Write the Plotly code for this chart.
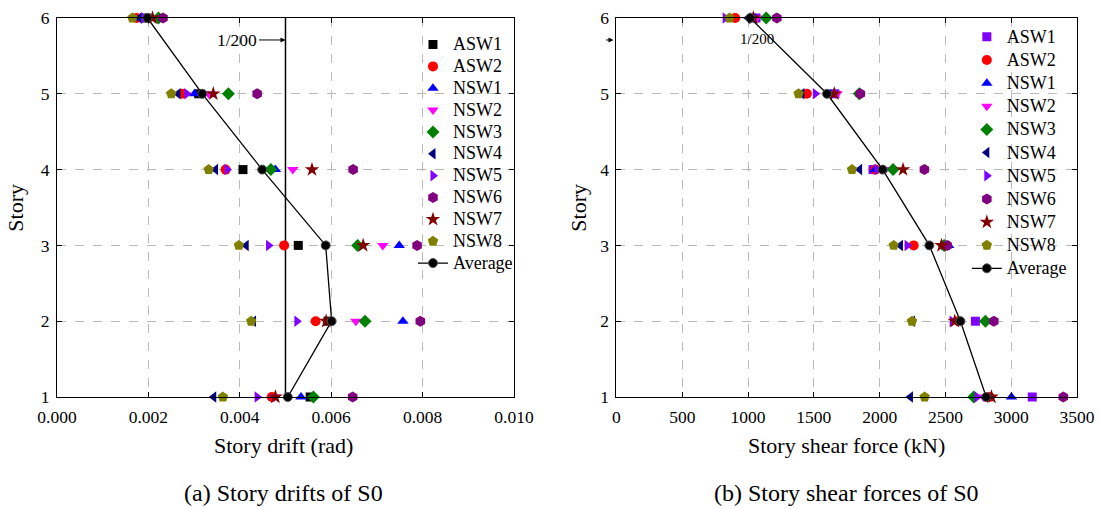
import plotly.graph_objects as go
from plotly.subplots import make_subplots

stories = [1, 2, 3, 4, 5, 6]
names = ["ASW1", "ASW2", "NSW1", "NSW2", "NSW3", "NSW4", "NSW5", "NSW6", "NSW7", "NSW8"]

# (a) story drift (rad), story 1..6
drift_ASW1 = [0.00554, 0.00593, 0.00528, 0.00407, 0.00310, 0.00195]
drift_ASW2 = [0.00470, 0.00566, 0.00497, 0.00369, 0.00274, 0.00174]
drift_NSW1 = [0.00534, 0.00757, 0.00749, 0.00478, 0.00301, 0.00183]
drift_NSW2 = [0.00475, 0.00654, 0.00713, 0.00516, 0.00332, 0.00200]
drift_NSW3 = [0.00561, 0.00674, 0.00658, 0.00468, 0.00375, 0.00222]
drift_NSW4 = [0.00343, 0.00430, 0.00414, 0.00347, 0.00265, 0.00180]
drift_NSW5 = [0.00438, 0.00525, 0.00463, 0.00372, 0.00284, 0.00190]
drift_NSW6 = [0.00647, 0.00795, 0.00788, 0.00648, 0.00438, 0.00232]
drift_NSW7 = [0.00478, 0.00589, 0.00670, 0.00558, 0.00342, 0.00209]
drift_NSW8 = [0.00363, 0.00425, 0.00398, 0.00332, 0.00250, 0.00165]
drift_avg = [0.00505, 0.00601, 0.00588, 0.00449, 0.00318, 0.00198]

# (b) story shear force (kN), story 1..6
shear_ASW1 = [3160, 2728, 2500, 1950, 1660, 1060]
shear_ASW2 = [2835, 2600, 2259, 1967, 1447, 902]
shear_NSW1 = [3002, 2605, 2525, 1967, 1625, 1054]
shear_NSW2 = [2790, 2589, 2490, 2043, 1676, 1067]
shear_NSW3 = [2715, 2804, 2490, 2102, 1845, 1138]
shear_NSW4 = [2234, 2250, 2158, 1848, 1409, 1000]
shear_NSW5 = [2741, 2551, 2209, 1980, 1511, 826]
shear_NSW6 = [3396, 2868, 2513, 2340, 1853, 1219]
shear_NSW7 = [2850, 2571, 2470, 2178, 1655, 1040]
shear_NSW8 = [2342, 2246, 2107, 1790, 1384, 859]
shear_avg = [2810, 2614, 2378, 2023, 1600, 1016]

drift_limit = 0.005
drift_ticks = [0.000, 0.002, 0.004, 0.006, 0.008, 0.010]
shear_ticks = [0, 500, 1000, 1500, 2000, 2500, 3000, 3500]

drift_series = [drift_ASW1, drift_ASW2, drift_NSW1, drift_NSW2, drift_NSW3,
                drift_NSW4, drift_NSW5, drift_NSW6, drift_NSW7, drift_NSW8]
shear_series = [shear_ASW1, shear_ASW2, shear_NSW1, shear_NSW2, shear_NSW3,
                shear_NSW4, shear_NSW5, shear_NSW6, shear_NSW7, shear_NSW8]

symbols = ["square", "circle", "triangle-up", "triangle-down", "diamond",
           "triangle-left", "triangle-right", "hexagon", "star", "pentagon"]
colors_a = ["#000000", "#FF0000", "#0000FF", "#FF00FF", "#008000",
            "#000080", "#8000FF", "#800080", "#800000", "#808000"]
colors_b = ["#8000FF"] + colors_a[1:]
sizes = [9, 10, 10, 10, 10, 10, 10, 11, 11, 11]

FONT = "Times New Roman, Liberation Serif, serif"


def lname(n):
    return '<span style="font-size:18px">' + n + '</span>'


fig = make_subplots(rows=1, cols=2, horizontal_spacing=0.1)

# vertical 1/200 line
fig.add_trace(go.Scatter(x=[drift_limit, drift_limit], y=[1, 6], mode="lines",
                         line=dict(color="black", width=1.5), showlegend=False,
                         hoverinfo="skip"), row=1, col=1)

for i, n in enumerate(names):
    fig.add_trace(go.Scatter(x=drift_series[i], y=stories, mode="markers", name=lname(n),
                             marker=dict(symbol=symbols[i], color=colors_a[i], size=sizes[i],
                                         line=dict(width=0)),
                             cliponaxis=False, legend="legend"), row=1, col=1)
fig.add_trace(go.Scatter(x=drift_avg, y=stories, mode="lines+markers", name=lname("Average"),
                         line=dict(color="black", width=1.3),
                         marker=dict(symbol="circle", color="black", size=9,
                                     line=dict(color="#555555", width=1)),
                         cliponaxis=False, legend="legend"), row=1, col=1)

for i, n in enumerate(names):
    fig.add_trace(go.Scatter(x=shear_series[i], y=stories, mode="markers", name=lname(n),
                             marker=dict(symbol=symbols[i], color=colors_b[i], size=sizes[i],
                                         line=dict(width=0)),
                             cliponaxis=False, legend="legend2"), row=1, col=2)
fig.add_trace(go.Scatter(x=shear_avg, y=stories, mode="lines+markers", name=lname("Average"),
                         line=dict(color="black", width=1.3),
                         marker=dict(symbol="circle", color="black", size=9,
                                     line=dict(color="#555555", width=1)),
                         cliponaxis=False, legend="legend2"), row=1, col=2)

axis_common = dict(showline=True, linecolor="black", linewidth=1, mirror="allticks",
                   ticks="inside", ticklen=5, tickcolor="black", automargin=False,
                   showgrid=True, gridcolor="#BBBBBB", griddash="dash", gridwidth=1,
                   zeroline=False, tickfont=dict(family=FONT, size=17.5, color="black"))

fig.update_xaxes(axis_common)
fig.update_yaxes(axis_common)

fig.update_xaxes(range=[0, 0.010], tickvals=drift_ticks, tickformat=".3f",
                 ticklabelstandoff=4, domain=[0, 0.448], row=1, col=1)
fig.update_xaxes(range=[0, 3500], tickvals=shear_ticks,
                 ticklabelstandoff=4, domain=[0.5485, 1.0], row=1, col=2)
fig.update_yaxes(range=[1, 6], tickvals=stories, ticklabelstandoff=3, row=1, col=1)
fig.update_yaxes(range=[1, 6], tickvals=stories, ticklabelstandoff=3, row=1, col=2)

legend_common = dict(bgcolor="rgba(0,0,0,0)", xanchor="left", yanchor="top",
                     tracegroupgap=0, itemwidth=30)

fig.update_layout(
    width=1099, height=509,
    margin=dict(l=57, r=22, t=18, b=112),
    paper_bgcolor="white", plot_bgcolor="white",
    font=dict(family=FONT, color="black"),
    legend=dict(legend_common, x=0.349, y=0.972,
                font=dict(family=FONT, size=14.5, color="black")),
    legend2=dict(legend_common, x=0.892, y=0.994,
                 font=dict(family=FONT, size=15.5, color="black")),
    annotations=[
        dict(x=drift_limit, y=5.71, xref="x", yref="y", text="1/200", showarrow=True,
             ax=-48, ay=0, arrowhead=2, arrowsize=1, arrowwidth=1, arrowcolor="black",
             font=dict(family=FONT, size=17.5, color="black")),
        dict(x=1069, y=5.72, xref="x2", yref="y2", text="1/200", showarrow=False,
             font=dict(family=FONT, size=15, color="black")),
        dict(x=0, y=5.71, xref="x2", yref="y2", text="", showarrow=True,
             ax=-12, ay=0, arrowhead=2, arrowsize=1, arrowwidth=1, arrowcolor="black",
             standoff=3),
        dict(x=0.2216, y=-0.129, xref="paper", yref="paper", text="Story drift (rad)",
             xanchor="center", yanchor="middle",
             showarrow=False, font=dict(family=FONT, size=22, color="black")),
        dict(x=0.7745, y=-0.129, xref="paper", yref="paper", text="Story shear force (kN)",
             xanchor="center", yanchor="middle",
             showarrow=False, font=dict(family=FONT, size=22, color="black")),
        dict(x=-0.041, y=0.5, xref="paper", yref="paper", text="Story", textangle=-90,
             xanchor="center", yanchor="middle",
             showarrow=False, font=dict(family=FONT, size=22, color="black")),
        dict(x=0.511, y=0.5, xref="paper", yref="paper", text="Story", textangle=-90,
             xanchor="center", yanchor="middle",
             showarrow=False, font=dict(family=FONT, size=22, color="black")),
        dict(x=0.2216, y=-0.253, xref="paper", yref="paper", text="(a) Story drifts of S0",
             xanchor="center", yanchor="middle",
             showarrow=False, font=dict(family=FONT, size=24, color="black")),
        dict(x=0.7745, y=-0.253, xref="paper", yref="paper", text="(b) Story shear forces of S0",
             xanchor="center", yanchor="middle",
             showarrow=False, font=dict(family=FONT, size=24, color="black")),
    ],
)

fig.write_html("out.html", config={"displayModeBar": False},
               post_script="document.body.style.margin='0';")
